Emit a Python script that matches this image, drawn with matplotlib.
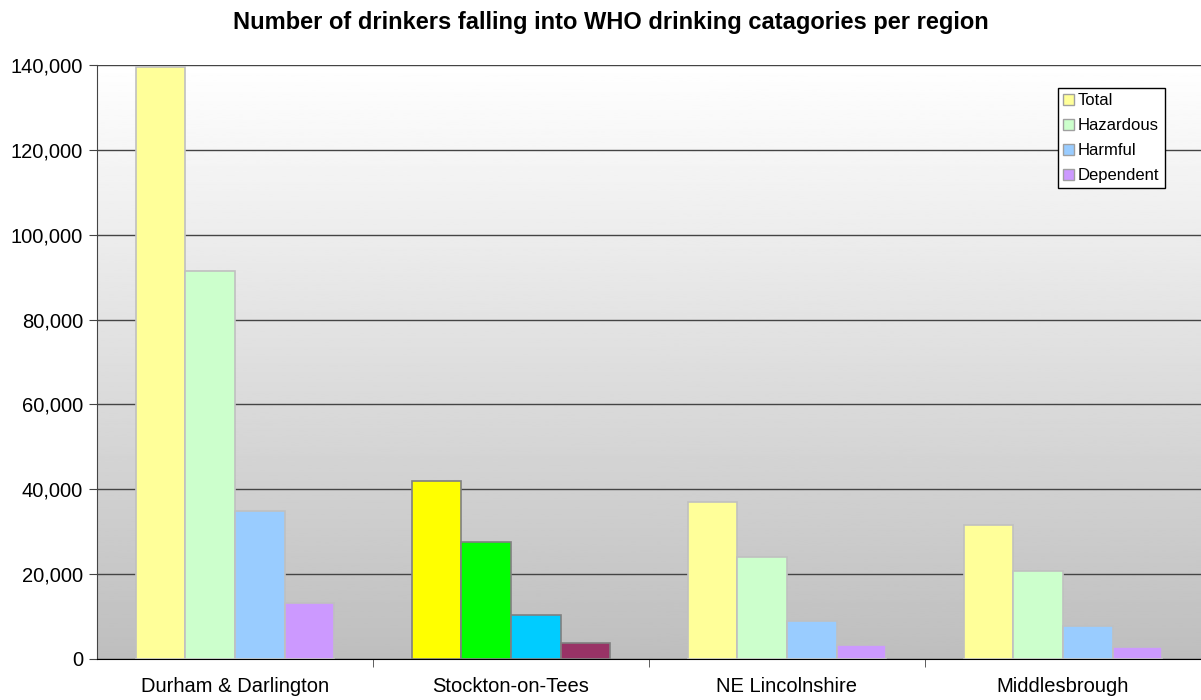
import numpy as np
import matplotlib
matplotlib.use("Agg")
import matplotlib.pyplot as plt
from matplotlib.patches import Patch
from matplotlib.ticker import FuncFormatter

plt.rcParams['font.family'] = ['Liberation Sans', 'DejaVu Sans']

regions = ['Durham & Darlington', 'Stockton-on-Tees', 'NE Lincolnshire', 'Middlesbrough']
categories = ['Total', 'Hazardous', 'Harmful', 'Dependent']
total = [139500, 42000, 37000, 31600]
hazardous = [91400, 27600, 24000, 20700]
harmful = [34900, 10400, 9000, 7800]
dependent = [13200, 3800, 3300, 2800]

pastel = ['#ffff99', '#ccffcc', '#99ccff', '#cc99ff']
stockton = ['#ffff00', '#00ff00', '#00ccff', '#993366']

fig = plt.figure(figsize=(12.01, 7), dpi=100)
ax = fig.add_axes([97 / 1201, 41 / 700, 1 - 97 / 1201, 594 / 700])

# gradient background
grad = np.linspace(1.0, 0.745, 256).reshape(-1, 1)
ax.imshow(grad, cmap='gray', vmin=0, vmax=1, aspect='auto',
          extent=[-0.5, 3.5, 0, 140000], zorder=0)

series = [total, hazardous, harmful, dependent]
w = 0.18
x = np.arange(len(regions))
for j, vals in enumerate(series):
    cols = [stockton[j] if i == 1 else pastel[j] for i in range(len(regions))]
    edges = ['#808080' if i == 1 else '#c0c0c0' for i in range(len(regions))]
    ax.bar(x + (j - 1.5) * w, vals, width=w, color=cols, edgecolor=edges,
           linewidth=1.2, zorder=3)

ax.set_xlim(-0.5, 3.5)
ax.set_ylim(0, 140000)
ax.set_yticks(np.arange(0, 140001, 20000))
ax.yaxis.set_major_formatter(FuncFormatter(lambda v, p: f'{int(v):,}'))
ax.grid(axis='y', color='#444444', linewidth=1, zorder=1)

ax.set_xticks(x)
ax.set_xticklabels(regions)
ax.set_xticks([0.5, 1.5, 2.5], minor=True)
ax.tick_params(axis='x', which='major', length=0, pad=13, labelsize=14.5)
ax.tick_params(axis='x', which='minor', length=6, color='#444444')
ax.tick_params(axis='y', length=6, color='#444444', labelsize=14.5, pad=4)

for s in ['top', 'right']:
    ax.spines[s].set_visible(False)
ax.spines['left'].set_color('#444444')
ax.spines['bottom'].set_color('#000000')

handles = [Patch(facecolor=c, edgecolor='#a0a0a0', label=l) for c, l in zip(pastel, categories)]
leg = ax.legend(handles=handles, loc='upper right', bbox_to_anchor=(0.967, 0.961),
                fontsize=12, frameon=True, fancybox=False, framealpha=1,
                handlelength=0.65, handleheight=0.65, handletextpad=0.25,
                labelspacing=0.6, borderpad=0.3, borderaxespad=0)
leg.get_frame().set_edgecolor('black')
leg.get_frame().set_linewidth(1)
leg.set_zorder(5)

fig.text(610.5 / 1201, 1 - 22 / 700, 'Number of drinkers falling into WHO drinking catagories per region',
         ha='center', va='center', fontsize=17, fontweight='bold')

fig.savefig('out.png', dpi=100)
